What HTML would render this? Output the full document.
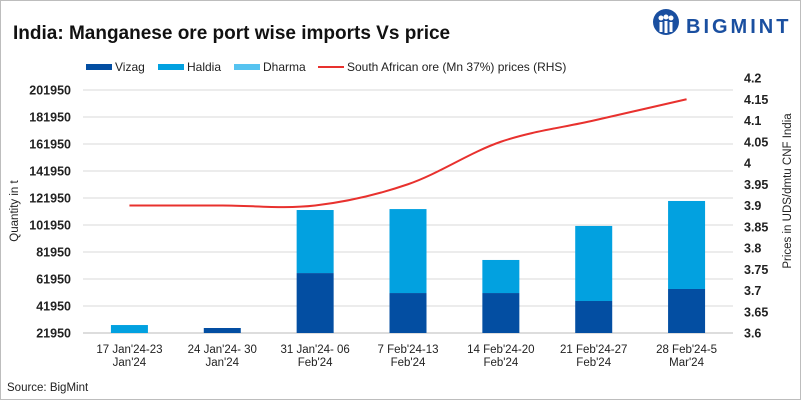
<!DOCTYPE html>
<html><head><meta charset="utf-8"><style>
body{margin:0;background:#fff;}
#wrap{position:relative;width:799px;height:398px;border:1px solid #bdbdbd;font-family:"Liberation Sans",sans-serif;overflow:hidden;}
</style></head><body>
<div id="wrap">
<svg id="chart" width="799" height="398" viewBox="0 0 799 398">
<text x="12" y="38" font-size="19" font-weight="bold" fill="#111">India: Manganese ore port wise imports Vs price</text>
<g>
<circle cx="665" cy="21" r="13" fill="#1a4fa0"/>
<circle cx="660" cy="17" r="2.5" fill="#fff"/><circle cx="665" cy="16" r="2.5" fill="#fff"/><circle cx="670" cy="17" r="2.5" fill="#fff"/>
<rect x="658.5" y="21" width="3" height="10" fill="#fff"/><rect x="663.5" y="20" width="3" height="12" fill="#fff"/><rect x="668.5" y="21" width="3" height="10" fill="#fff"/>
<text x="685" y="32" font-size="20" font-weight="bold" fill="#1a4fa0" letter-spacing="3">BIGMINT</text>
</g>
<g id="legend">
<rect x="85" y="63" width="26" height="6" fill="#034ea2"/>
<text x="114" y="70" font-size="12" fill="#222">Vizag</text>
<rect x="157" y="63" width="26" height="6" fill="#02a1e0"/>
<text x="186" y="70" font-size="12" fill="#222">Haldia</text>
<rect x="233" y="63" width="26" height="6" fill="#56c3f0"/>
<text x="262" y="70" font-size="12" fill="#222">Dharma</text>
<line x1="317" y1="66" x2="343" y2="66" stroke="#e8312e" stroke-width="2"/>
<text x="346" y="70" font-size="12" fill="#222">South African ore (Mn 37%) prices (RHS)</text>
</g>
<text transform="translate(17,210) rotate(-90)" text-anchor="middle" font-size="11.5" fill="#222">Quantity in t</text>
<text transform="translate(790,190) rotate(-90)" text-anchor="middle" font-size="11.5" fill="#222">Prices in UDS/dmtu CNF India</text>
<g id="plot"></g>
<text x="6" y="390" font-size="11.5" fill="#222">Source: BigMint</text>
</svg>
</div>
<script>
const categories=[["17 Jan'24-23","Jan'24"],["24 Jan'24- 30","Jan'24"],["31 Jan'24- 06","Feb'24"],["7 Feb'24-13","Feb'24"],["14 Feb'24-20","Feb'24"],["21 Feb'24-27","Feb'24"],["28 Feb'24-5","Mar'24"]];
const vizag=[21950,25650,66350,51550,51550,45650,54550];
const haldia=[5900,0,46700,62200,24500,55600,65200];
const dharma=[0,0,0,0,0,0,0];
const price=[3.9,3.9,3.9,3.95,4.05,4.1,4.15];
const leftTicks=[21950,41950,61950,81950,101950,121950,141950,161950,181950,201950];
const rightTicks=[3.6,3.65,3.7,3.75,3.8,3.85,3.9,3.95,4,4.05,4.1,4.15,4.2];
const NS="http://www.w3.org/2000/svg";
const g=document.getElementById('plot');
const X0=82,X1=732,yBot=332,yTop=89;
const band=(X1-X0)/categories.length;
const xc=i=>X0+band*(i+0.5);
const yL=v=>yBot-(v-21950)/(201950-21950)*(yBot-yTop);
const yR=v=>yBot-(v-3.6)/(4.2-3.6)*(yBot-77);
function mk(t,a){const e=document.createElementNS(NS,t);for(const k in a)e.setAttribute(k,a[k]);g.appendChild(e);return e;}
leftTicks.forEach((v,i)=>{
 const l=mk('line',{x1:X0,x2:X1,y1:yL(v),y2:yL(v),stroke:i==0?'#bbb':'#d9d9d9','stroke-width':1});
 
 
 const t=mk('text',{x:70,y:yL(v)+4.5,'text-anchor':'end','font-size':12.5,'font-weight':'bold',fill:'#222'});
 t.textContent=v;
 
 
});
rightTicks.forEach(v=>{
 const t=mk('text',{x:743,y:yR(v)+4.5,'font-size':12.5,'font-weight':'bold',fill:'#222'});
 t.textContent=v;
 
 
});
const bw=37;
categories.forEach((c,i)=>{
 const x=xc(i)-bw/2;
 let base=21950;
 [[vizag[i],'#034ea2','bar-vizag'],[haldia[i],'#02a1e0','bar-haldia'],[dharma[i],'#56c3f0','bar-dharma']].forEach(([v,col,n],k)=>{
  let from=base,to=(k==0?v:base+v);
  if(k==0){from=21950;to=v;}
  if(to>from){
   const r=mk('rect',{x:x,y:yL(to),width:bw,height:yL(from)-yL(to),fill:col});
   
   
  }
  base=Math.max(base,to);
 });
 c.forEach((s,j)=>{
  const t=mk('text',{x:xc(i),y:352+j*13,'text-anchor':'middle','font-size':11.5,fill:'#222'});
  t.textContent=s;
  
  
 });
});
const pts=price.map((v,i)=>[xc(i),yR(v)]);
let d='M'+pts[0][0]+','+pts[0][1];
for(let i=0;i<pts.length-1;i++){
 const p0=pts[Math.max(0,i-1)],p1=pts[i],p2=pts[i+1],p3=pts[Math.min(pts.length-1,i+2)];
 const c1=[p1[0]+(p2[0]-p0[0])/6,p1[1]+(p2[1]-p0[1])/6];
 const c2=[p2[0]-(p3[0]-p1[0])/6,p2[1]-(p3[1]-p1[1])/6];
 d+=' C'+c1+' '+c2+' '+p2;
}
const pl=mk('path',{d:d,fill:'none',stroke:'#e8312e','stroke-width':2});


</script>
</body></html>
